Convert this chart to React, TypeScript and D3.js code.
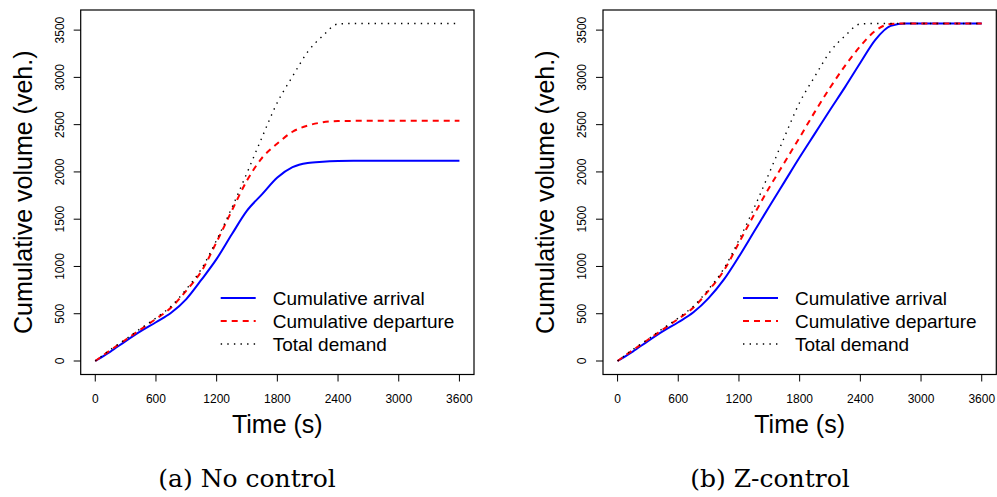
import React, { useEffect, useRef } from 'react';
import * as d3 from 'd3';

// time grid (s)
const times = [0, 150, 300, 450, 600, 750, 900, 1050, 1200, 1350, 1500, 1650, 1800, 1950, 2100, 2250, 2400, 2550, 2700, 2850, 3000, 3150, 3300, 3450, 3600];

// total demand, same in both panels
const demand = [0, 120, 230, 345, 455, 580, 760, 975, 1280, 1620, 1990, 2370, 2735, 3010, 3270, 3440, 3565, 3570, 3570, 3570, 3570, 3570, 3570, 3570, 3570];

// (a) no control
const arrivalA = [0, 100, 210, 315, 410, 510, 655, 860, 1080, 1340, 1590, 1765, 1940, 2050, 2095, 2108, 2115, 2118, 2118, 2118, 2118, 2118, 2118, 2118, 2118];
const departureA = [0, 115, 225, 335, 445, 565, 745, 950, 1260, 1590, 1910, 2150, 2300, 2425, 2490, 2525, 2538, 2540, 2540, 2540, 2540, 2540, 2540, 2540, 2540];

// (b) Z-control
const arrivalB = [0, 100, 210, 315, 410, 515, 665, 860, 1105, 1370, 1635, 1895, 2155, 2405, 2655, 2900, 3155, 3400, 3545, 3570, 3570, 3570, 3570, 3570, 3570];
const departureB = [0, 115, 225, 335, 445, 565, 745, 955, 1250, 1550, 1835, 2100, 2365, 2635, 2890, 3125, 3330, 3495, 3565, 3570, 3570, 3570, 3570, 3570, 3570];

const xTicks = [0, 600, 1200, 1800, 2400, 3000, 3600];
const yTicks = [0, 500, 1000, 1500, 2000, 2500, 3000, 3500];
const legendLabels = ['Cumulative arrival', 'Cumulative departure', 'Total demand'];
const captions = ['(a) No control', '(b) Z-control'];

const panels = [
  { left: 80.7, arrival: arrivalA, departure: departureA, caption: captions[0], capX: 247 },
  { left: 603, arrival: arrivalB, departure: departureB, caption: captions[1], capX: 770 },
];

const App = () => {
  const ref = useRef<SVGSVGElement>(null);

  useEffect(() => {
    const width = 997;
    const height = 497;
    const boxW = 393.3;
    const top = 10;
    const bottom = 374.5;
    const font = 'Liberation Sans, Arial, sans-serif';

    const svg = d3.select(ref.current);
    svg.selectAll('*').remove();
    svg.attr('width', width).attr('height', height);

    svg.append('rect').attr('width', width).attr('height', height).attr('fill', 'white');

    const styles = [
      { stroke: '#0000ff', dash: null, w: 2 },
      { stroke: '#ff0000', dash: '6,5', w: 2 },
      { stroke: '#000000', dash: '1.4,5.2', w: 1.4 },
    ];

    for (const p of panels) {
      const x = d3.scaleLinear().domain([-144, 3744]).range([p.left, p.left + boxW]);
      const y = d3.scaleLinear().domain([-142.8, 3712.8]).range([bottom, top]);
      const g = svg.append('g');

      const line = d3.line<number>()
        .x((_, i) => x(times[i]))
        .y(d => y(d))
        .curve(d3.curveMonotoneX);

      [p.arrival, p.departure, demand].forEach((series, i) => {
        const s = styles[i];
        g.append('path')
          .attr('d', line(series))
          .attr('fill', 'none')
          .attr('stroke', s.stroke)
          .attr('stroke-width', s.w)
          .attr('stroke-dasharray', s.dash);
      });

      // box
      g.append('rect')
        .attr('x', p.left).attr('y', top)
        .attr('width', boxW).attr('height', bottom - top)
        .attr('fill', 'none').attr('stroke', 'black').attr('stroke-width', 1.2);

      // x axis
      for (const t of xTicks) {
        g.append('line')
          .attr('x1', x(t)).attr('x2', x(t))
          .attr('y1', bottom).attr('y2', bottom + 7)
          .attr('stroke', 'black');
        g.append('text')
          .attr('x', x(t)).attr('y', bottom + 28)
          .attr('text-anchor', 'middle')
          .attr('font-family', font).attr('font-size', 12)
          .text(t);
      }

      // y axis
      for (const v of yTicks) {
        g.append('line')
          .attr('x1', p.left).attr('x2', p.left - 7)
          .attr('y1', y(v)).attr('y2', y(v))
          .attr('stroke', 'black');
        g.append('text')
          .attr('transform', `translate(${p.left - 17},${y(v)}) rotate(-90)`)
          .attr('text-anchor', 'middle')
          .attr('font-family', font).attr('font-size', 12)
          .text(v);
      }

      g.append('text')
        .attr('x', p.left + boxW / 2).attr('y', 433)
        .attr('text-anchor', 'middle')
        .attr('font-family', font).attr('font-size', 25)
        .text('Time (s)');

      g.append('text')
        .attr('transform', `translate(${p.left - 49},${(top + bottom) / 2}) rotate(-90)`)
        .attr('text-anchor', 'middle')
        .attr('font-family', font).attr('font-size', 25)
        .text('Cumulative volume (veh.)');

      // legend
      const lx = p.left + 140;
      legendLabels.forEach((label, i) => {
        const s = styles[i];
        const ly = 298 + i * 23;
        g.append('line')
          .attr('x1', lx).attr('x2', lx + 35)
          .attr('y1', ly).attr('y2', ly)
          .attr('stroke', s.stroke)
          .attr('stroke-width', s.w)
          .attr('stroke-dasharray', s.dash);
        g.append('text')
          .attr('x', lx + 52).attr('y', ly)
          .attr('dy', '0.35em')
          .attr('font-family', font).attr('font-size', 19)
          .text(label);
      });

      g.append('text')
        .attr('x', p.capX).attr('y', 487)
        .attr('text-anchor', 'middle')
        .attr('font-family', 'DejaVu Serif, serif').attr('font-size', 25)
        .text(p.caption);
    }
  }, []);

  return <svg ref={ref} style={{ position: 'absolute', left: 0, top: 0 }} />;
};

export default App;
